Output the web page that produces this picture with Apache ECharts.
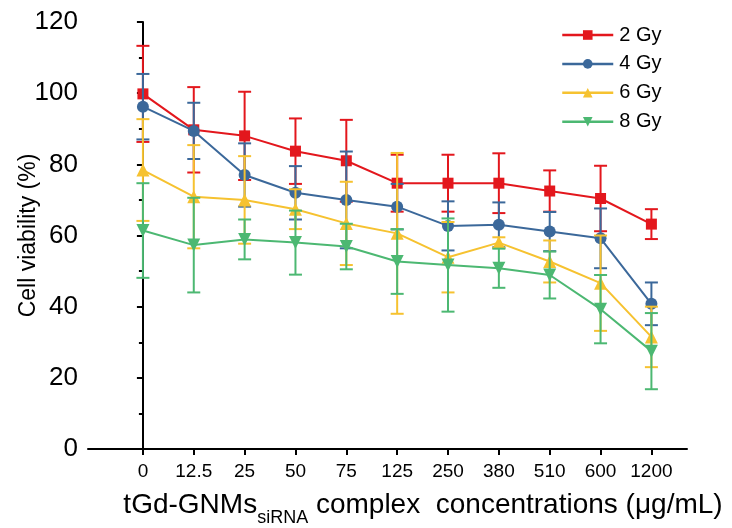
<!DOCTYPE html>
<html><head><meta charset="utf-8">
<script src="https://cdn.jsdelivr.net/npm/echarts@6/dist/echarts.min.js"></script>
<style>html,body{margin:0;padding:0;background:#fff}#c{width:732px;height:528px}</style>
</head><body><div id="c"></div>
<script>
var categories = ['0','12.5','25','50','75','125','250','380','510','600','1200'];
var seriesNames = ['2 Gy','4 Gy','6 Gy','8 Gy'];
var gy2 = [99.8, 89.7, 88.0, 83.7, 81.0, 74.7, 74.7, 74.7, 72.5, 70.4, 63.2];
var gy2Err = [13.5, 12.0, 12.4, 9.2, 11.5, 8.0, 8.0, 8.4, 5.8, 9.2, 4.2];
var gy4 = [96.2, 89.4, 77.0, 72.0, 70.0, 68.1, 62.7, 63.0, 61.1, 59.2, 40.8];
var gy4Err = [9.2, 7.9, 8.9, 7.5, 13.6, 6.4, 6.9, 6.3, 5.5, 8.4, 6.0];
var gy6 = [78.4, 70.9, 70.0, 67.4, 63.4, 60.6, 53.9, 58.0, 52.7, 46.6, 31.5];
var gy6Err = [14.3, 14.5, 12.3, 5.6, 11.7, 22.6, 9.9, 1.5, 5.9, 13.4, 8.5];
var gy8 = [61.4, 57.3, 58.9, 58.0, 56.9, 52.7, 51.7, 50.8, 48.9, 39.3, 27.5];
var gy8Err = [13.3, 13.3, 5.6, 9.0, 6.4, 9.1, 13.1, 5.5, 6.6, 9.6, 10.7];
var yTicks = [0, 20, 40, 60, 80, 100, 120];

var colors = ['#E3171D', '#3B689A', '#F6C230', '#4CB872'];
var symbols = ['rect', 'circle', 'triangle', 'triangle'];
var symSizes = [11, 12, 13, 13];
var symRot = [0, 0, 0, 180];
var vals = [gy2, gy4, gy6, gy8];
var errs = [gy2Err, gy4Err, gy6Err, gy8Err];
var idx = categories.map(function(_, i){ return i; });

function errRender(color){
  return function(params, api){
    var x = api.value(0), lo = api.value(1), hi = api.value(2);
    var p1 = api.coord([x, hi]), p2 = api.coord([x, lo]);
    var w = 6.5;
    var st = {stroke: color, lineWidth: 2};
    return {type: 'group', children: [
      {type: 'line', shape: {x1: p1[0], y1: p1[1], x2: p2[0], y2: p2[1]}, style: st},
      {type: 'line', shape: {x1: p1[0]-w, y1: p1[1], x2: p1[0]+w, y2: p1[1]}, style: st},
      {type: 'line', shape: {x1: p2[0]-w, y1: p2[1], x2: p2[0]+w, y2: p2[1]}, style: st}
    ]};
  };
}

var series = [];
seriesNames.forEach(function(name, k){
  series.push({
    type: 'custom', name: name + ' err', renderItem: errRender(colors[k]),
    data: idx.map(function(i){ return [i, vals[k][i] - errs[k][i], vals[k][i] + errs[k][i]]; }),
    encode: {x: 0, y: [1, 2]}, silent: true, z: 2 + k
  });
  series.push({
    type: 'line', name: name,
    data: idx.map(function(i){ return [i, vals[k][i]]; }),
    symbol: symbols[k], symbolSize: symSizes[k], symbolRotate: symRot[k],
    showAllSymbol: true,
    lineStyle: {color: colors[k], width: 2},
    itemStyle: {color: colors[k]},
    z: 2 + k
  });
});

var chart = echarts.init(document.getElementById('c'), null, {renderer: 'canvas'});
chart.setOption({
  animation: false,
  backgroundColor: '#fff',
  grid: {left: 88, right: 45, top: 22, bottom: 79, containLabel: false, outerBoundsMode: 'none'},
  legend: {
    data: seriesNames,
    orient: 'vertical', left: 561, top: 25, padding: 0,
    itemWidth: 51, itemHeight: 12, itemGap: 8.9,
    lineStyle: {width: 2.5},
    textStyle: {fontFamily: 'Liberation Sans, Arial', fontSize: 20, color: '#000', padding: [0, 0, 0, 1]}
  },
  graphic: [{
    type: 'text', x: 423, y: 503,
    style: {
      text: '{a|tGd-GNMs}{s|siRNA}{a| complex  concentrations (μg/mL)}',
      align: 'center', verticalAlign: 'middle',
      rich: {
        a: {fontSize: 28, fontFamily: 'Liberation Sans, Arial', fill: '#000', lineHeight: 32, verticalAlign: 'bottom'},
        s: {fontSize: 18, fontFamily: 'Liberation Sans, Arial', fill: '#000', lineHeight: 32, verticalAlign: 'bottom', padding: [0, 0, -8, 0]}
      }
    }
  }],
  xAxis: {
    type: 'value', min: -1.08, max: 10.7,
    axisLine: {show: true, lineStyle: {color: '#000', width: 2}},
    axisTick: {show: true, length: 6, lineStyle: {color: '#000', width: 2}, customValues: idx},
    axisLabel: {show: true, customValues: idx, color: '#000', fontSize: 19,
      fontFamily: 'Liberation Sans Narrow, Arial Narrow, Liberation Sans', margin: 13,
      formatter: function(v){ return categories[Math.round(v)]; }},
    splitLine: {show: false}
  },
  yAxis: {
    type: 'value', min: 0, max: 120, interval: 20,
    axisLine: {show: true, lineStyle: {color: '#000', width: 2}},
    axisTick: {show: true, length: 6, lineStyle: {color: '#000', width: 2}},
    minorTick: {show: true, splitNumber: 2, length: 4, lineStyle: {color: '#000', width: 2}},
    axisLabel: {color: '#000', fontSize: 26, fontFamily: 'Liberation Sans, Arial', margin: 10,
      formatter: function(v){ return yTicks.indexOf(v) >= 0 ? String(v) : ''; }},
    splitLine: {show: false},
    name: 'Cell viability (%)', nameLocation: 'middle', nameGap: 48, nameMoveOverlap: false,
    nameTextStyle: {fontSize: 23, fontFamily: 'Liberation Sans, Arial', color: '#000'}
  },
  series: series
});
</script></body></html>
